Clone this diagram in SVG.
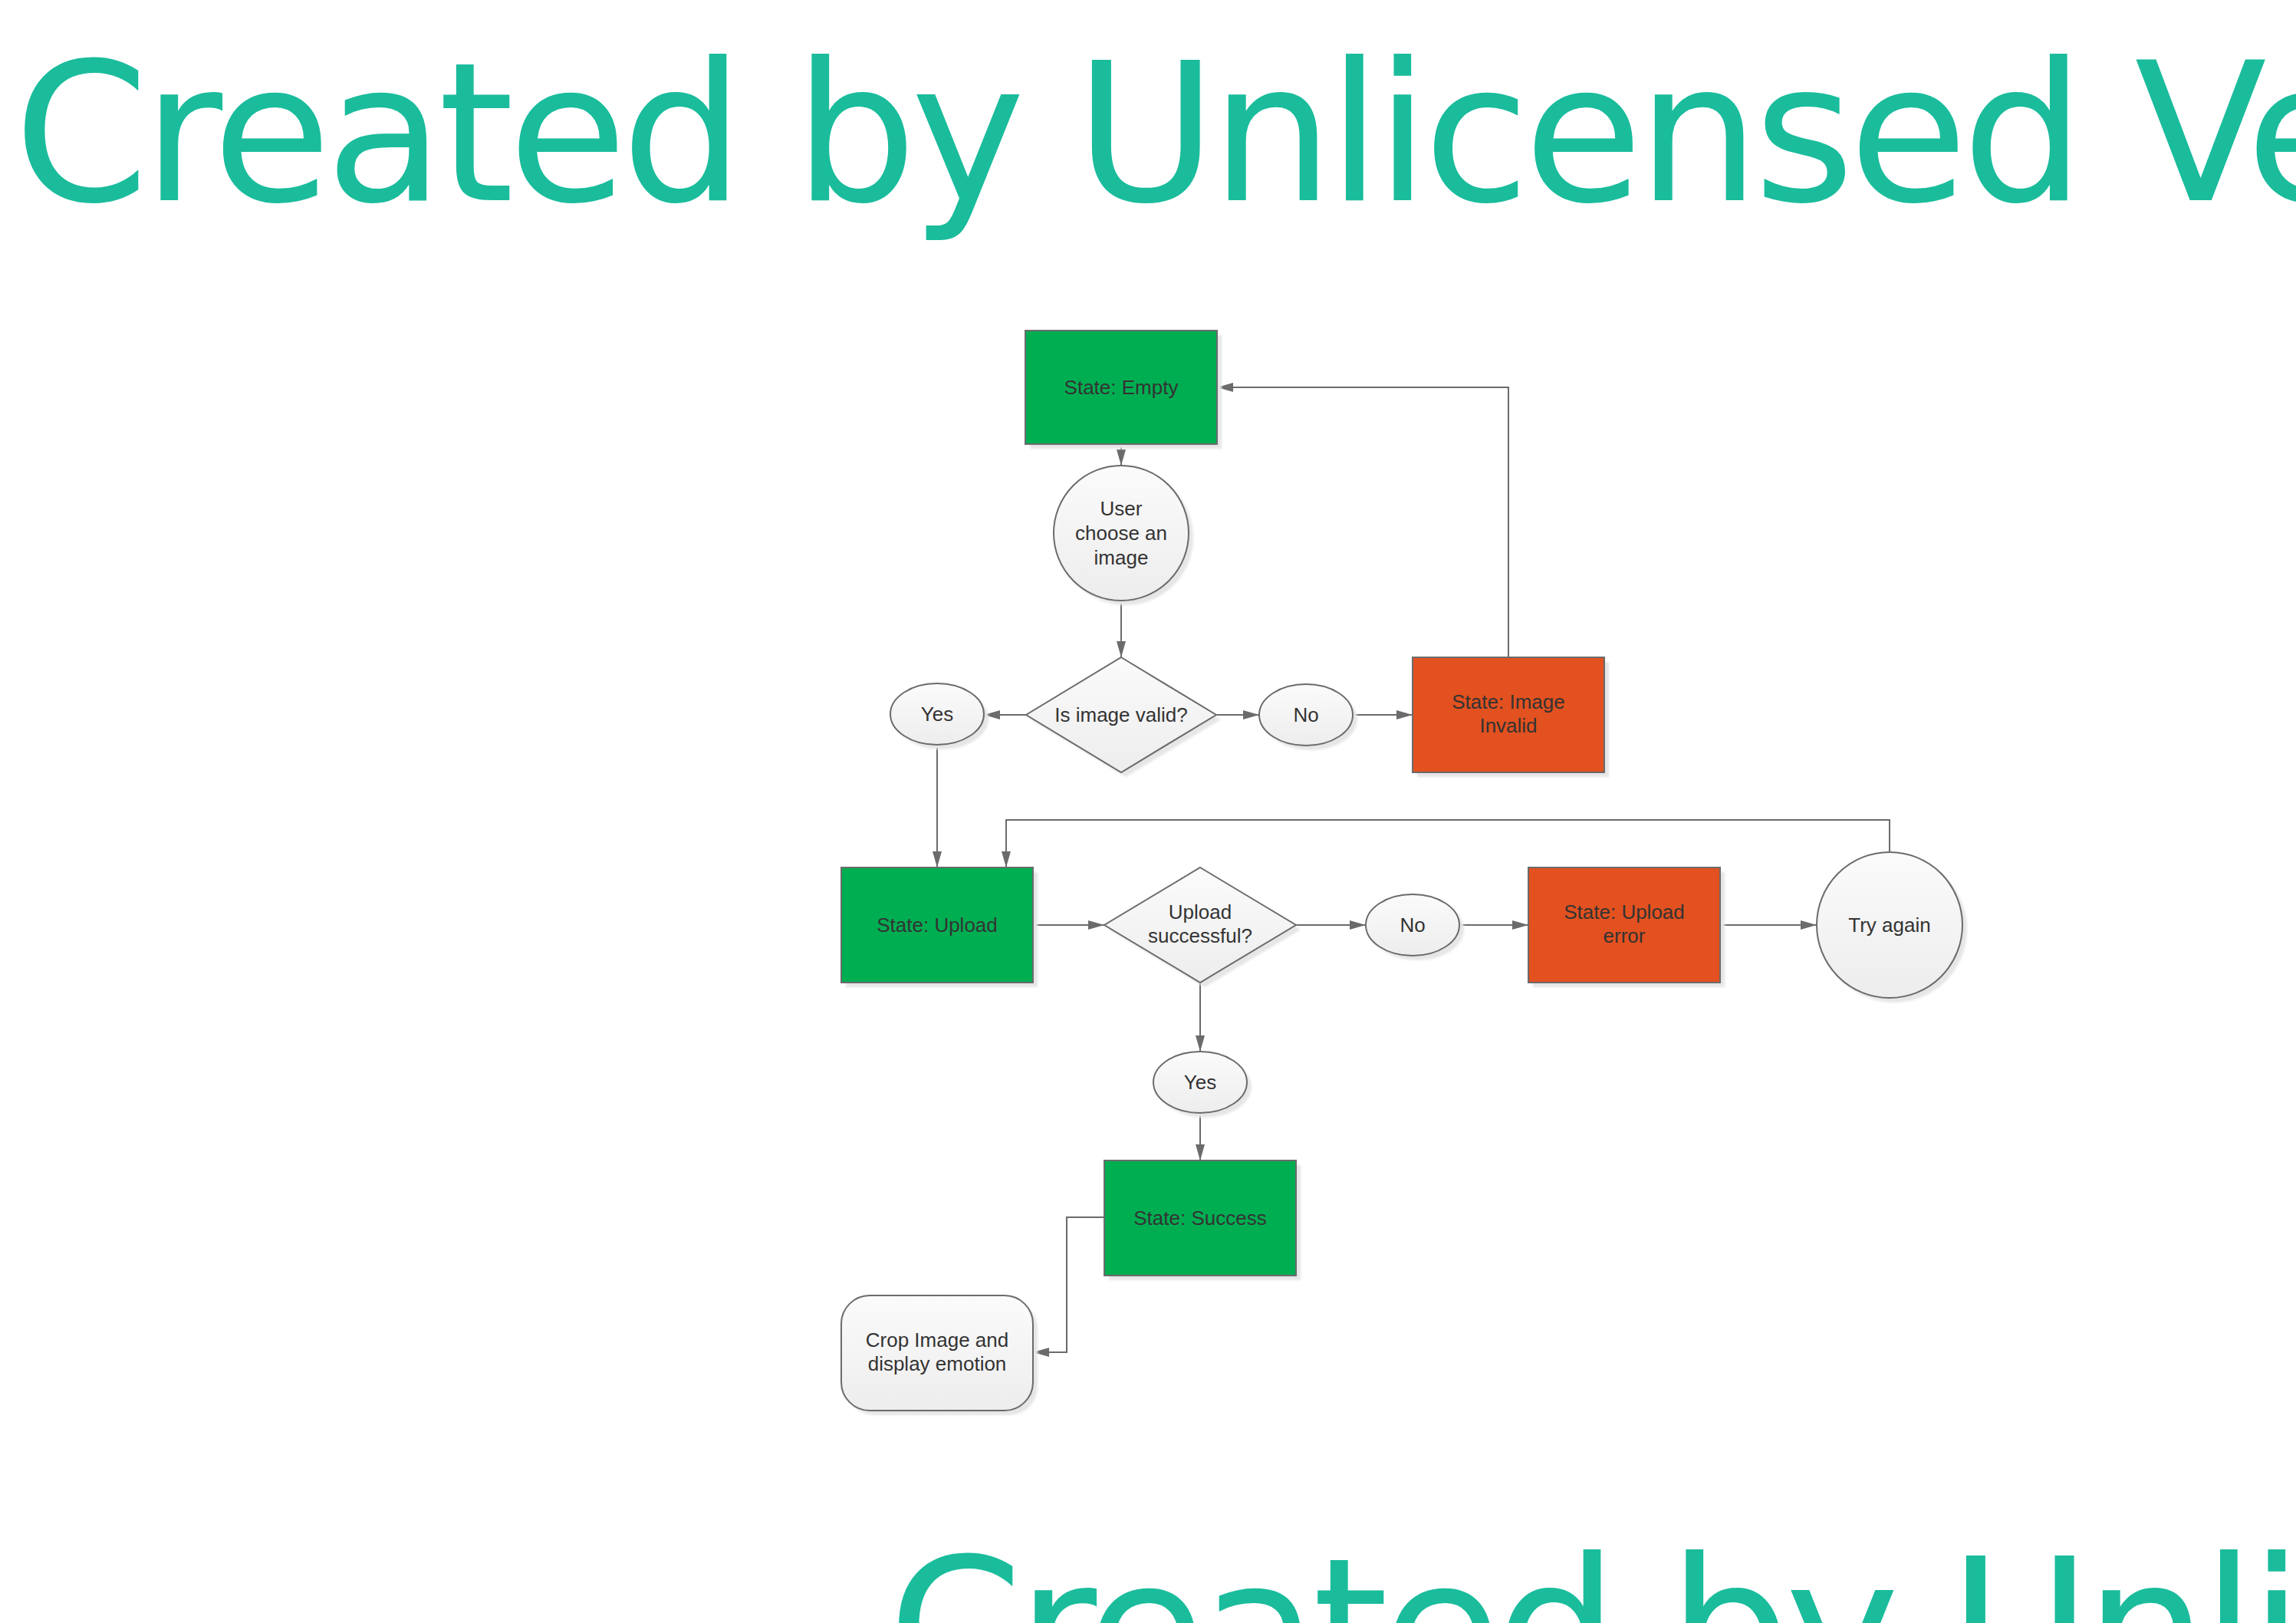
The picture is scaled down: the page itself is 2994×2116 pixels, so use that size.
<svg xmlns="http://www.w3.org/2000/svg" width="2994" height="2116" viewBox="0 0 2994 2116">
<style>
.wm{font-family:"DejaVu Sans",Verdana,sans-serif;font-size:252px;fill:#1ABC9C;letter-spacing:-7.5px}
.t{font-family:"Liberation Sans",Arial,sans-serif;font-size:26px;fill:#333333;text-anchor:middle}
.green{fill:#00AE52;stroke:#6b6b6b;stroke-width:2}
.red{fill:#E2511F;stroke:#6b6b6b;stroke-width:2}
.light{fill:url(#lg);stroke:#6b6b6b;stroke-width:2}
.sh{fill:#e6e6e6;stroke:none;filter:url(#blur)}
.c{fill:none;stroke:#6b6b6b;stroke-width:2;marker-end:url(#arr)}
</style>
<defs>
<linearGradient id="lg" x1="0" y1="0" x2="0" y2="1">
<stop offset="0" stop-color="#fbfbfb"/>
<stop offset="1" stop-color="#ededed"/>
</linearGradient>
<filter id="blur" x="-10%" y="-10%" width="120%" height="120%"><feGaussianBlur stdDeviation="1.5"/></filter>
<marker id="arr" markerUnits="userSpaceOnUse" markerWidth="22" markerHeight="14" refX="21" refY="6" orient="auto">
<path d="M0,0 L21,6 L0,12 z" fill="#6b6b6b"/>
</marker>
</defs>
<rect width="2994" height="2116" fill="#ffffff"/>
<text class="wm" x="18" y="261">Created by Unlicensed Version</text>
<text class="wm" x="1158" y="2211">Created by Unlicensed Version</text>

<g id="connectors">
<path class="c" d="M1462,579 L1462,607"/>
<path class="c" d="M1462,783 L1462,857"/>
<path class="c" d="M1338,932 L1283,932"/>
<path class="c" d="M1586,932 L1642,932"/>
<path class="c" d="M1764,932 L1842,932"/>
<path class="c" d="M1967,857 L1967,505 L1587,505"/>
<path class="c" d="M1222,971 L1222,1131"/>
<path class="c" d="M1347,1206 L1440,1206"/>
<path class="c" d="M1690,1206 L1781,1206"/>
<path class="c" d="M1904,1206 L1993,1206"/>
<path class="c" d="M2243,1206 L2369,1206"/>
<path class="c" d="M2464,1111 L2464,1069 L1312,1069 L1312,1131"/>
<path class="c" d="M1565,1281 L1565,1371"/>
<path class="c" d="M1565,1451 L1565,1513"/>
<path class="c" d="M1440,1587 L1391,1587 L1391,1763 L1347,1763"/>
</g>

<g id="n-empty">
<rect class="sh" x="1343" y="437" width="250" height="148"/>
<rect class="green" x="1337" y="431" width="250" height="148"/>
<text class="t" x="1462" y="514">State: Empty</text>
</g>

<g id="n-choose">
<circle class="sh" cx="1468" cy="701" r="88"/>
<circle class="light" cx="1462" cy="695" r="88"/>
<text class="t" x="1462" y="672">User</text>
<text class="t" x="1462" y="704">choose an</text>
<text class="t" x="1462" y="736">image</text>
</g>

<g id="n-valid">
<polygon class="sh" points="1468,863 1592,938 1468,1013 1344,938"/>
<polygon class="light" points="1462,857 1586,932 1462,1007 1338,932"/>
<text class="t" x="1462" y="941">Is image valid?</text>
</g>

<g id="n-yes1">
<ellipse class="sh" cx="1228" cy="937" rx="61" ry="40"/>
<ellipse class="light" cx="1222" cy="931" rx="61" ry="40"/>
<text class="t" x="1222" y="940">Yes</text>
</g>

<g id="n-no1">
<ellipse class="sh" cx="1709" cy="938" rx="61" ry="40"/>
<ellipse class="light" cx="1703" cy="932" rx="61" ry="40"/>
<text class="t" x="1703" y="941">No</text>
</g>

<g id="n-invalid">
<rect class="sh" x="1848" y="863" width="250" height="150"/>
<rect class="red" x="1842" y="857" width="250" height="150"/>
<text class="t" x="1967" y="924">State: Image</text>
<text class="t" x="1967" y="955">Invalid</text>
</g>

<g id="n-upload">
<rect class="sh" x="1103" y="1137" width="250" height="150"/>
<rect class="green" x="1097" y="1131" width="250" height="150"/>
<text class="t" x="1222" y="1215">State: Upload</text>
</g>

<g id="n-success-q">
<polygon class="sh" points="1571,1137 1696,1212 1571,1287 1446,1212"/>
<polygon class="light" points="1565,1131 1690,1206 1565,1281 1440,1206"/>
<text class="t" x="1565" y="1198">Upload</text>
<text class="t" x="1565" y="1229">successful?</text>
</g>

<g id="n-no2">
<ellipse class="sh" cx="1848" cy="1212" rx="61" ry="40"/>
<ellipse class="light" cx="1842" cy="1206" rx="61" ry="40"/>
<text class="t" x="1842" y="1215">No</text>
</g>

<g id="n-error">
<rect class="sh" x="1999" y="1137" width="250" height="150"/>
<rect class="red" x="1993" y="1131" width="250" height="150"/>
<text class="t" x="2118" y="1198">State: Upload</text>
<text class="t" x="2118" y="1229">error</text>
</g>

<g id="n-try">
<circle class="sh" cx="2470" cy="1212" r="95"/>
<circle class="light" cx="2464" cy="1206" r="95"/>
<text class="t" x="2464" y="1215">Try again</text>
</g>

<g id="n-yes2">
<ellipse class="sh" cx="1571" cy="1417" rx="61" ry="40"/>
<ellipse class="light" cx="1565" cy="1411" rx="61" ry="40"/>
<text class="t" x="1565" y="1420">Yes</text>
</g>

<g id="n-success">
<rect class="sh" x="1446" y="1519" width="250" height="150"/>
<rect class="green" x="1440" y="1513" width="250" height="150"/>
<text class="t" x="1565" y="1597">State: Success</text>
</g>

<g id="n-crop">
<rect class="sh" x="1103" y="1695" width="250" height="150" rx="37" ry="37"/>
<rect class="light" x="1097" y="1689" width="250" height="150" rx="37" ry="37"/>
<text class="t" x="1222" y="1756">Crop Image and</text>
<text class="t" x="1222" y="1787">display emotion</text>
</g>
</svg>
